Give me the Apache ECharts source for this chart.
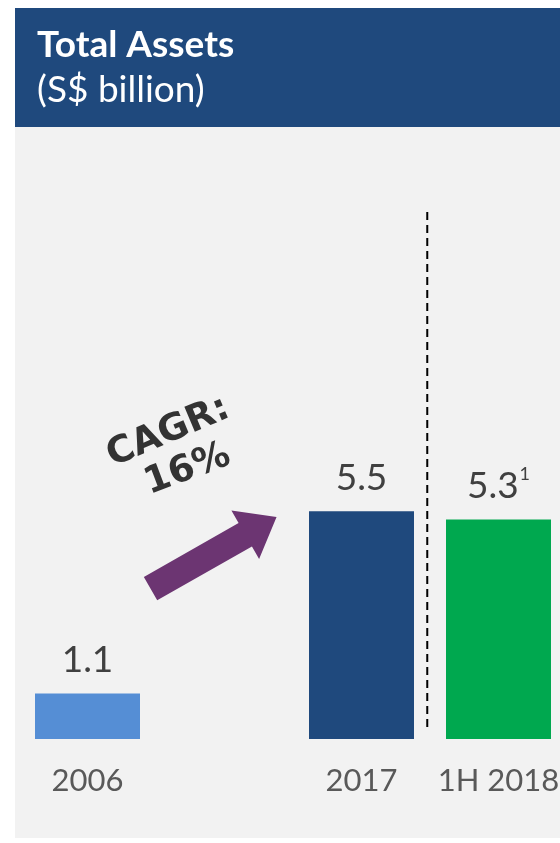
<!DOCTYPE html>
<html lang="en">
<head>
    <meta charset="UTF-8">
    <title>Total Assets</title>
    <script type="text/javascript" src="https://cdn.jsdelivr.net/npm/echarts@6/dist/echarts.min.js"></script>
    <style>
        html, body { margin: 0; padding: 0; background: #ffffff; }
    </style>
</head>
<body>
<div id="main" style="width: 560px; height: 843px;"></div>
<script type="text/javascript">
    // data
    var categories = ['2006', '', '2017', '1H 2018'];
    var values = [1.1, null, 5.5, 5.3];
    var footnotes = ['', '', '', '1'];
    var barColors = ['#558ed5', null, '#1f497d', '#00a84f'];
    var cagrText = ['CAGR:', '16%'];

    // dashed separator between 2017 and 1H 2018 (value-axis units)
    var dividerX = 2.48;
    var dividerY = [0.29, 12.83];
    // growth arrow, from/to in data units
    var arrowFrom = [0.46, 3.63];
    var arrowTo = [1.38, 5.36];

    var FONT = 'Lato, "DejaVu Sans", sans-serif';

    var myChart = echarts.init(document.getElementById('main'));

    var barData = values.map(function (v, i) {
        return {
            value: v,
            itemStyle: { color: barColors[i] },
            label: {
                formatter: footnotes[i] ? '{v|' + v.toFixed(1) + '}{sup|' + footnotes[i] + '}' : '{v|' + (v == null ? '' : v.toFixed(1)) + '}'
            }
        };
    });

    var option = {
        backgroundColor: '#ffffff',
        animation: false,
        title: {
            text: 'Total Assets',
            subtext: '(S$ billion)',
            left: 32,
            top: 22,
            itemGap: 8,
            textStyle: { color: '#ffffff', fontSize: 37, fontWeight: 'bold', fontFamily: FONT },
            subtextStyle: { color: '#ffffff', fontSize: 37, fontFamily: FONT }
        },
        grid: { left: 19, width: 548, top: 159, bottom: 104, outerBoundsMode: 'none', containLabel: false },
        xAxis: [
            {
                type: 'category',
                data: categories,
                axisLine: { show: false },
                axisTick: { show: false },
                axisLabel: { color: '#595959', fontSize: 31, fontFamily: FONT, margin: 26, interval: 0, hideOverlap: false }
            },
            { type: 'value', min: -0.5, max: 3.5, show: false }
        ],
        yAxis: { type: 'value', min: 0, max: 14, show: false, splitLine: { show: false } },
        series: [
            {
                type: 'bar',
                xAxisIndex: 0,
                data: barData,
                barWidth: 105,
                label: {
                    show: true,
                    position: 'top',
                    distance: 12,
                    rich: {
                        v: { fontSize: 37, color: '#404040', fontFamily: FONT, lineHeight: 42 },
                        sup: { fontSize: 18, color: '#404040', fontFamily: FONT, verticalAlign: 'top', lineHeight: 42, padding: [0, 0, 16, 1] }
                    }
                }
            },
            {
                type: 'line',
                xAxisIndex: 1,
                data: [[dividerX, dividerY[0]], [dividerX, dividerY[1]]],
                symbol: 'none',
                clip: false,
                lineStyle: { color: '#000000', width: 2, type: [8, 5] }
            }
        ],
        graphic: []
    };
    myChart.setOption(option);

    // panel background, header band, arrow and CAGR text
    function px(p) {
        return myChart.convertToPixel({ xAxisIndex: 1, yAxisIndex: 0 }, p);
    }
    var a = px(arrowFrom), b = px(arrowTo);
    var dx = b[0] - a[0], dy = b[1] - a[1];
    var len = Math.sqrt(dx * dx + dy * dy);
    var ux = dx / len, uy = dy / len, nx = -uy, ny = ux;
    var shaftW = 27, headW = 56, headL = 36;
    var hb = [b[0] - ux * headL, b[1] - uy * headL];
    var arrowPts = [
        [a[0] + nx * shaftW / 2, a[1] + ny * shaftW / 2],
        [hb[0] + nx * shaftW / 2, hb[1] + ny * shaftW / 2],
        [hb[0] + nx * headW / 2, hb[1] + ny * headW / 2],
        [b[0], b[1]],
        [hb[0] - nx * headW / 2, hb[1] - ny * headW / 2],
        [hb[0] - nx * shaftW / 2, hb[1] - ny * shaftW / 2],
        [a[0] - nx * shaftW / 2, a[1] - ny * shaftW / 2]
    ];
    var t1 = px([0.59, 7.4]), t2 = px([0.73, 6.5]);
    var CAGR_FONT = 'bold 37px "DejaVu Sans", sans-serif';

    myChart.setOption({
        graphic: [
            { type: 'rect', z: -10, silent: true, shape: { x: 15, y: 127, width: 545, height: 711 }, style: { fill: '#f2f2f2' } },
            { type: 'rect', z: -9, silent: true, shape: { x: 15, y: 8, width: 545, height: 119 }, style: { fill: '#1f497d' } },
            { type: 'polygon', z: 5, shape: { points: arrowPts }, style: { fill: '#6c3572' } },
            {
                type: 'text', z: 5, x: t1[0], y: t1[1], rotation: 0.4,
                style: { text: cagrText[0], fill: '#333333', font: CAGR_FONT, align: 'center', verticalAlign: 'middle' }
            },
            {
                type: 'text', z: 5, x: t2[0], y: t2[1], rotation: 0.36,
                style: { text: cagrText[1], fill: '#333333', font: CAGR_FONT, align: 'center', verticalAlign: 'middle' }
            }
        ]
    });
</script>
</body>
</html>
